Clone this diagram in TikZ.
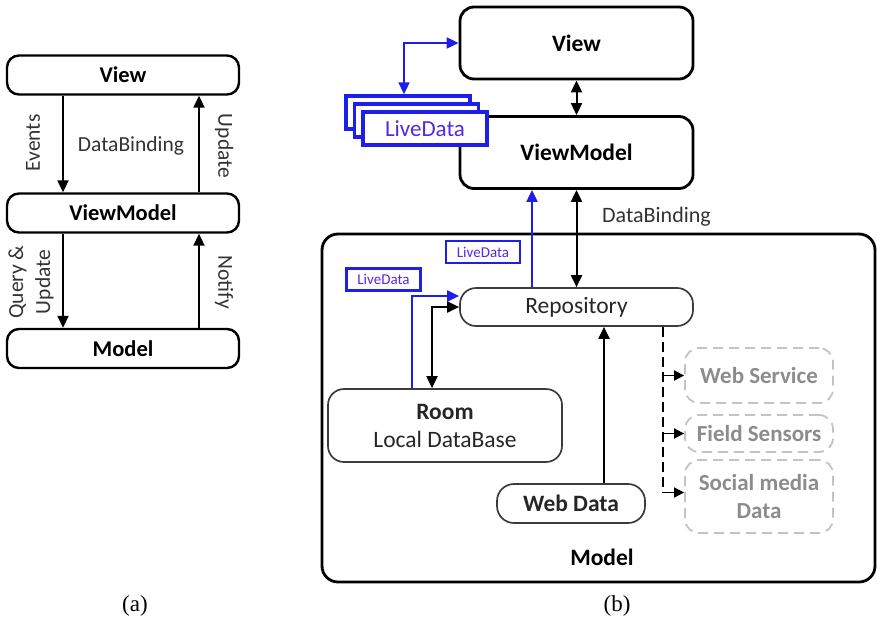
\documentclass[tikz,border=0pt]{standalone}
\usepackage{fontspec}
\setmainfont{Carlito}
\newfontfamily\capfont{Liberation Serif}
\usetikzlibrary{arrows.meta,calc}
\definecolor{lblue}{RGB}{30,30,235}
\definecolor{ltext}{RGB}{85,40,225}
\definecolor{dgray}{RGB}{60,60,60}
\definecolor{lgray}{RGB}{195,195,195}
\definecolor{tgray}{RGB}{140,140,140}
\tikzset{
  >={Triangle[length=12pt,width=11pt]},
  conn/.style={draw=black,line width=2pt},
  bconn/.style={draw=lblue,line width=2pt},
  sconn/.style={draw=black,line width=1.8pt,-{Triangle[length=10pt,width=10pt]}},
  abox/.style={draw,line width=2.4pt,rounded corners=12pt,minimum width=232pt,minimum height=39pt,inner sep=0pt,font=\fontsize{22.5}{26}\selectfont\bfseries},
  bbox/.style={draw,line width=2.8pt,rounded corners=14pt,minimum width=233pt,minimum height=72pt,inner sep=0pt,font=\fontsize{23.5}{28}\selectfont\bfseries},
  rbox/.style={draw=dgray,line width=1.7pt,rounded corners=16pt,inner sep=0pt,text=black!85,font=\fontsize{23.5}{28}\selectfont},
  gbox/.style={draw=lgray,line width=1.8pt,dash pattern=on 10pt off 6pt,rounded corners=14pt,minimum width=148pt,inner sep=0pt,text=tgray,align=center,font=\fontsize{23}{28}\selectfont\bfseries},
  ldbig/.style={draw=lblue,line width=3.4pt,fill=white,minimum width=124pt,minimum height=33pt,inner sep=0pt,text=ltext,font=\fontsize{23}{26}\selectfont},
  ldsmall/.style={draw=lblue,line width=2.5pt,fill=white,minimum width=74pt,minimum height=22pt,inner sep=0pt,text=ltext,font=\fontsize{15}{16}\selectfont},
  lbl/.style={inner sep=0pt,text=black!80,font=\fontsize{21.5}{27}\selectfont},
  captext/.style={inner sep=0pt,font=\capfont\fontsize{23}{26}\selectfont}
}
\begin{document}
\begin{tikzpicture}[x=1pt,y=-1pt]
\useasboundingbox (0,0) rectangle (877,629);
% ---------- (a)
\node[abox] (vA) at (123,75) {View};
\node[abox] (vmA) at (123,213) {ViewModel};
\node[abox] (mA) at (123,348.5) {Model};
\draw[conn,->] ([xshift=-60pt]vA.south) -- ([xshift=-60pt]vmA.north);
\draw[conn,->] ([xshift=76pt]vmA.north) -- ([xshift=76pt]vA.south);
\draw[conn,->] ([xshift=-60pt]vmA.south) -- ([xshift=-60pt]mA.north);
\draw[conn,->] ([xshift=76pt]mA.north) -- ([xshift=76pt]vmA.south);
\node[lbl,rotate=90] (ev) at (33,143) {Events};
\node[lbl] (dbA) at (131,146) {DataBinding};
\node[lbl,rotate=-90] (up) at (224,146) {Update};
\node[lbl,rotate=90,align=center] (qu) at (31,282) {Query \&\\Update};
\node[lbl,rotate=-90] (nt) at (224,282) {Notify};
\node[captext] (capa) at (135,606) {(a)};
% ---------- (b)
\node[draw,line width=2.8pt,rounded corners=16pt,minimum width=553pt,minimum height=348pt] (model) at (598.5,408) {};
\node[bbox] (view) at (576.5,43) {View};
\node[bbox] (vm) at (576.5,152.5) {ViewModel};
\node[ldbig] (ld1) at (408,112.5) {};
\node[ldbig] (ld2) at (416.5,120.5) {};
\node[ldbig] (ld3) at (425,128.5) {LiveData};
\draw[bconn,<->] ([xshift=-4pt]ld1.north) |- (view.west);
\draw[conn,<->] (view.south) -- (vm.north);
\node[lbl,anchor=west,font=\fontsize{22}{26}\selectfont] (dbB) at (602,217) {DataBinding};
\node[rbox,minimum width=233pt,minimum height=38pt] (repo) at (576.5,307) {Repository};
\draw[conn,<->] (vm.south) -- (repo.north);
\draw[bconn,->] ([xshift=-44.5pt]repo.north) -- ([xshift=-44.5pt]vm.south);
\node[ldsmall] (lds1) at (483,252) {LiveData};
\node[ldsmall] (lds2) at (383.5,279.5) {LiveData};
\node[rbox,minimum width=234pt,minimum height=73pt,align=center] (room) at (445,425.5) {\textbf{Room}\\Local DataBase};
\draw[bconn,->] ([xshift=-33pt]room.north) |- ([yshift=11pt]repo.west);
\draw[conn,<->] ([xshift=-13pt]room.north) |- (repo.west);
\node[rbox,minimum width=148pt,minimum height=39pt,font=\fontsize{23.5}{26}\selectfont\bfseries,rounded corners=17pt] (wd) at (571,503.5) {Web Data};
\draw[conn,->] ([xshift=33pt]wd.north) -- ([xshift=33pt]wd.north |- repo.south);
\node[gbox,minimum height=55pt] (ws) at (759,375.5) {Web Service};
\node[gbox,minimum height=37pt] (fs) at (759,433.5) {Field Sensors};
\node[gbox,minimum height=73pt] (sm) at (759,496.5) {Social media\\Data};
\coordinate (dtop) at ([xshift=86.5pt]repo.south);
\coordinate (dbot) at ([yshift=4pt]dtop |- sm.west);
\draw[line width=1.8pt,dash pattern=on 10pt off 5pt] (dtop) -- (dbot);
\draw[sconn] (dtop |- ws.west) -- (ws.west);
\draw[sconn] (dtop |- fs.west) -- (fs.west);
\draw[sconn] (dbot) -- (dbot -| sm.west);
\node[inner sep=0pt,font=\fontsize{23.5}{26}\selectfont\bfseries] (mlab) at (602,557) {Model};
\node[captext] (capb) at (617,606) {(b)};
\end{tikzpicture}
\end{document}
